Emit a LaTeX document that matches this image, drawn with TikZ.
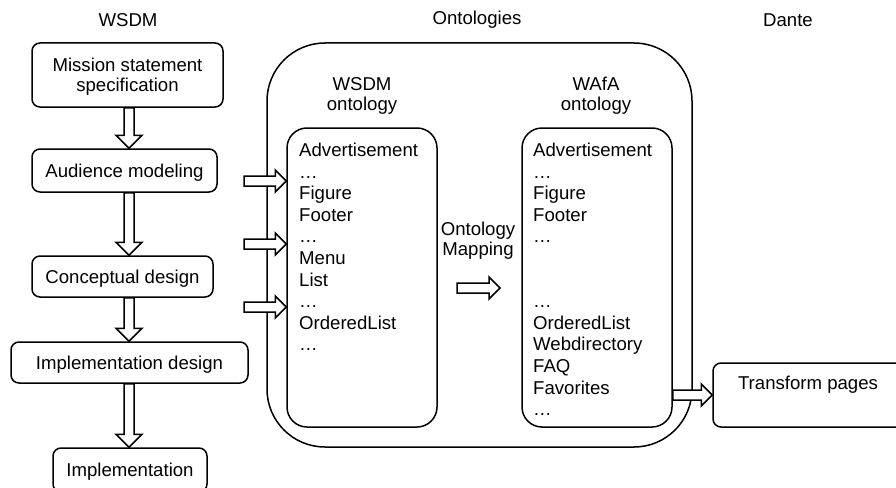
\documentclass[tikz,border=0pt]{standalone}
\usepackage{fontspec}
\setmainfont{Liberation Sans}
\usetikzlibrary{calc}

\tikzset{
  every node/.style={font=\fontsize{18.6}{20}\selectfont, inner sep=0pt},
  stage/.style={draw, line width=1.5pt, rounded corners=8pt, align=center, text depth=0pt},
  ontobox/.style={draw, line width=1.5pt, rounded corners=20pt},
  blockarrow/.style={draw, fill=white, line width=1.5pt, line join=miter},
  item/.style={anchor=base west},
  heading/.style={align=center}
}

% hollow block arrow pointing down, from #1 to the tip #2
\newcommand\downblock[2]{%
  \path[blockarrow] let \p1=(#1), \p2=(#2) in
    (\x1-5pt,\y1) -- (\x1-5pt,\y2+13pt) -- (\x1-13pt,\y2+13pt) -- (\x1,\y2)
    -- (\x1+13pt,\y2+13pt) -- (\x1+5pt,\y2+13pt) -- (\x1+5pt,\y1) -- cycle;}
% hollow block arrow pointing right, from #1 to the tip #2
\newcommand\rightblock[2]{%
  \path[blockarrow] let \p1=(#1), \p2=(#2) in
    (\x1,\y1+5pt) -- (\x2-11pt,\y1+5pt) -- (\x2-11pt,\y1+11pt) -- (\x2,\y1)
    -- (\x2-11pt,\y1-11pt) -- (\x2-11pt,\y1-5pt) -- (\x1,\y1-5pt) -- cycle;}

\begin{document}
\begin{tikzpicture}[x=1pt,y=-1pt]
\useasboundingbox (0,0) rectangle (896,487);
\clip (0,0) rectangle (896,487);

% column headings
\node (wsdmtitle) at (128,20) {WSDM};
\node (ontotitle) at (477,20) {Ontologies};
\node (dantetitle) at (788,20) {Dante};

% WSDM design phases
\node[stage, minimum width=191pt, minimum height=64pt] (mission) at (127.5,75) {Mission statement\\specification};
\node[stage, minimum width=185pt, minimum height=43pt] (audience) at (124.5,170.5) {Audience modeling};
\node[stage, minimum width=181pt, minimum height=41pt] (concept) at (122.5,276.5) {Conceptual design};
\node[stage, minimum width=237pt, minimum height=41pt] (impldesign) at (129.5,362.5) {Implementation design};
\node[stage, minimum width=154pt, minimum height=44pt] (impl) at (130,470) {Implementation};

% ontologies container
\node[draw, line width=1.5pt, rounded corners=58pt, minimum width=425pt, minimum height=404pt] (ontologies) at (479.5,245) {};
\node[ontobox, minimum width=150pt, minimum height=299pt] (wsdmbox) at (362,277.5) {};
\node[ontobox, minimum width=150pt, minimum height=299pt] (wafabox) at (597,277.5) {};
\node[heading] (wsdmhead) at (362,96) {WSDM\\ontology};
\node[heading] (wafahead) at (596,96) {WAfA\\ontology};
\node[heading] (maphead) at (478,241) {Ontology\\Mapping};

\foreach \k/\t in {0/Advertisement,1/…,2/Figure,3/Footer,4/…,5/Menu,6/List,7/…,8/OrderedList,9/…}
  \node[item] (ws\k) at (299,156.5+21.6*\k) {\t};
\foreach \k/\t in {0/Advertisement,1/…,2/Figure,3/Footer,4/…,7/…,8/OrderedList,9/Webdirectory,10/FAQ,11/Favorites,12/…}
  \node[item] (wa\k) at (533,156.5+21.6*\k) {\t};

% Dante
\node[stage, minimum width=200pt, minimum height=64pt] (transform) at (813,395) {};
\node (transformtext) at (808,385) {Transform pages};

% flow arrows
\coordinate (spine) at (129,0);
\downblock{mission.south -| spine}{audience.north -| spine}
\downblock{audience.south -| spine}{concept.north -| spine}
\downblock{concept.south -| spine}{impldesign.north -| spine}
\downblock{impldesign.south -| spine}{impl.north -| spine}

\coordinate (in1) at (244,181);
\coordinate (in2) at (244,244);
\coordinate (in3) at (244,307);
\rightblock{in1}{in1 -| wsdmbox.west}
\rightblock{in2}{in2 -| wsdmbox.west}
\rightblock{in3}{in3 -| wsdmbox.west}

\coordinate (mapfrom) at (457,288);
\coordinate (mapto) at (500,288);
\rightblock{mapfrom}{mapto}

\rightblock{wafabox.east |- transform.west}{transform.west}
\end{tikzpicture}
\end{document}
